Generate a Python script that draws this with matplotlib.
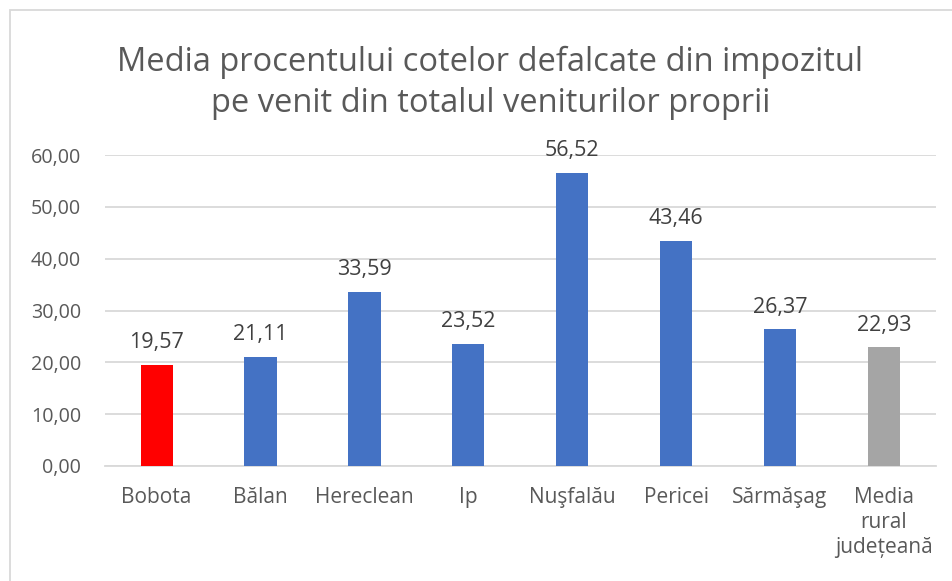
import matplotlib.pyplot as plt
from matplotlib.patches import Rectangle

plt.rcParams['font.family'] = ['Open Sans', 'DejaVu Sans']

# data
categories = ['Bobota', 'Bălan', 'Hereclean', 'Ip', 'Nuşfalău', 'Pericei',
              'Sărmăşag', 'Media\nrural\njudețeană']
values = [19.57, 21.11, 33.59, 23.52, 56.52, 43.46, 26.37, 22.93]
colors = ['#FF0000', '#4472C4', '#4472C4', '#4472C4', '#4472C4', '#4472C4',
          '#4472C4', '#A5A5A5']
yticks = [0, 10, 20, 30, 40, 50, 60]

fig = plt.figure(figsize=(9.52, 5.81), dpi=100)
ax = fig.add_axes([0.110, 0.198, 0.873, 0.535])

x = range(len(categories))
bars = ax.bar(x, values, width=0.31, color=colors, zorder=3)

for xi, v in zip(x, values):
    ax.annotate(f'{v:.2f}'.replace('.', ','), (xi, v), xytext=(0, 12),
                textcoords='offset points', ha='center', va='baseline',
                fontsize=15.5, color='#404040')

ax.set_xlim(-0.5, len(categories) - 0.5)
ax.set_ylim(0, 60)
ax.set_yticks(yticks)
ax.set_yticklabels([f'{t:.2f}'.replace('.', ',') for t in yticks])
ax.set_xticks(list(x))
ax.set_xticklabels(categories, linespacing=1.25, fontsize=15)
ax.tick_params(axis='both', length=0, colors='#595959')
ax.tick_params(axis='y', labelsize=14.2, pad=17)
ax.tick_params(axis='x', pad=15)
ax.grid(axis='y', color='#D9D9D9', linewidth=1.3, zorder=0)
for s in ['top', 'right', 'left']:
    ax.spines[s].set_visible(False)
ax.spines['bottom'].set_color('#D9D9D9')
ax.spines['bottom'].set_linewidth(1.3)

fig.text(0.515, 0.857, 'Media procentului cotelor defalcate din impozitul\npe venit din totalul veniturilor proprii',
         ha='center', va='center', fontsize=23.5, color='#595959', linespacing=1.3)

# chart border
fig.patches.append(Rectangle((10 / 952, -0.1), 1.1, (581 - 10) / 581 + 0.1,
                             transform=fig.transFigure, fill=False,
                             edgecolor='#D9D9D9', linewidth=1.3))

fig.savefig('out.png', dpi=100)
